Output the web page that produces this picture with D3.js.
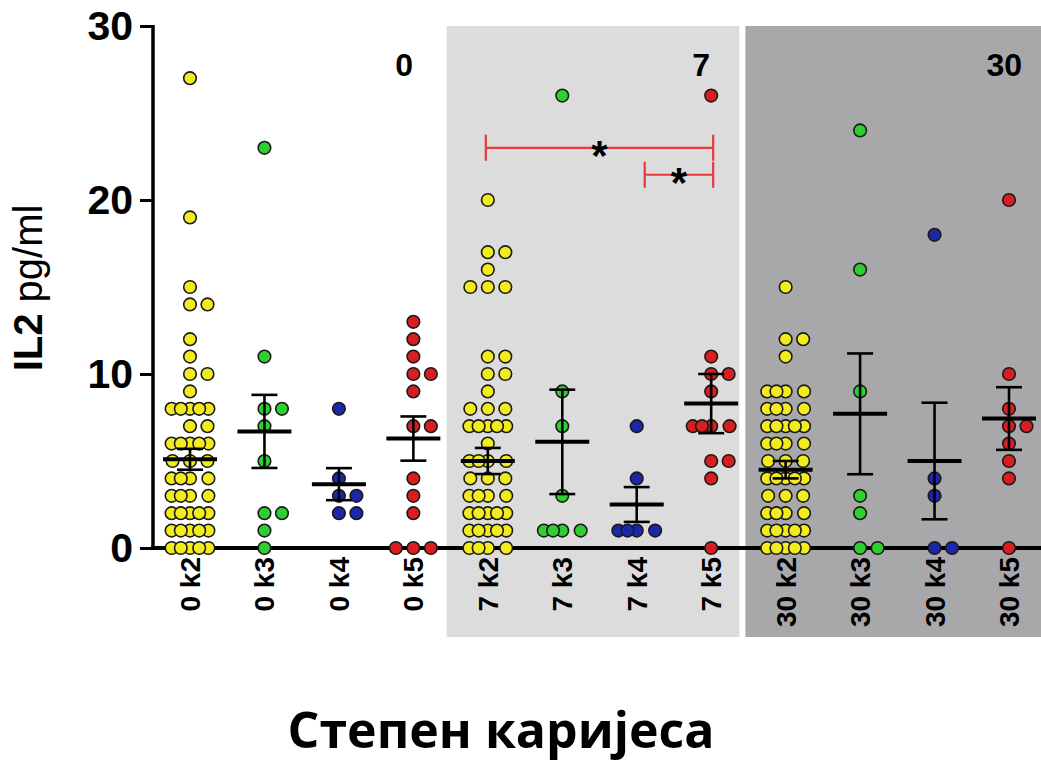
<!DOCTYPE html>
<html>
<head>
<meta charset="utf-8">
<title>IL2</title>
<script src="https://cdn.jsdelivr.net/npm/d3@7"></script>
<style>
body { margin: 0; background: white; }
svg text { font-family: "Liberation Sans", Arial, sans-serif; }
</style>
</head>
<body>
<div id="chart"></div>
<script>
// groups on the x axis
var categories = ["0 k2","0 k3","0 k4","0 k5","7 k2","7 k3","7 k4","7 k5","30 k2","30 k3","30 k4","30 k5"];
var degree = ["k2","k3","k4","k5","k2","k3","k4","k5","k2","k3","k4","k5"];

// one value per dot
var v0k2 = [27,19,15,14,14,12,11,10,10,9,8,8,8,8,8,7,7,6,6,6,6,6,5,5,5,4,4,4,4,3,3,3,3,2,2,2,2,2,1,1,1,1,1,0,0,0,0,0];
var v0k3 = [23,11,8,8,7,5,2,2,1,0];
var v0k4 = [8,4,3,3,2,2];
var v0k5 = [13,12,11,10,10,9,7,7,4,3,2,0,0,0];
var v7k2 = [20,17,17,16,15,15,15,11,11,10,10,9,8,8,8,7,7,7,7,7,6,5,5,5,5,4,4,4,3,3,3,3,2,2,2,2,2,1,1,1,1,1,0,0,0,0];
var v7k3 = [26,9,7,3,1,1,1,1];
var v7k4 = [7,4,1,1,1,1];
var v7k5 = [26,11,10,10,9,7,7,7,7,5,5,4,0];
var v30k2 = [15,12,12,11,9,9,9,9,8,8,8,8,7,7,7,7,7,6,6,6,6,5,5,5,4,4,4,4,4,3,3,3,2,2,2,2,1,1,1,1,1,0,0,0,0,0];
var v30k3 = [24,16,9,3,2,0,0];
var v30k4 = [18,4,3,0,0];
var v30k5 = [20,10,8,7,7,6,5,4,0];
var values = [v0k2,v0k3,v0k4,v0k5,v7k2,v7k3,v7k4,v7k5,v30k2,v30k3,v30k4,v30k5];

// mean and SEM as drawn
var means = [5.1,6.7,3.67,6.29,5.0,6.1,2.5,8.3,4.5,7.71,5.0,7.44];
var sems  = [0.6,2.1,0.92,1.27,0.75,3.0,1.0,1.7,0.5,3.47,3.35,1.8];

var yTicks = [0,10,20,30];
var days = ["0","7","30"];

// significance brackets
var brackets = [{from:"7 k2", to:"7 k5", y:23.0}, {from:"7 k4", to:"7 k5", y:21.45}];

var colors = {k2:"#f2ec1e", k3:"#2fcf2f", k4:"#1b27a8", k5:"#d81e1e"};

var w = 1041, h = 764;
var svg = d3.select("#chart").append("svg").attr("width", w).attr("height", h);

var x = d3.scalePoint().domain(categories).range([190, 1009]);
var y = d3.scaleLinear().domain([0,30]).range([548, 26]);

// background bands for day 7 and day 30
var b1 = (x("0 k5") + x("7 k2"))/2 - 4,
    b2 = (x("7 k5") + x("30 k2"))/2 - 9;
svg.append("rect").attr("x", b1).attr("y", y(30)).attr("width", b2 - b1).attr("height", 637 - y(30)).attr("fill", "#dcdcdc");
svg.append("rect").attr("x", b2 + 6).attr("y", y(30)).attr("width", w - b2 - 6).attr("height", 637 - y(30)).attr("fill", "#a8a8ab");

// day labels
var dayX = [413, 710, 1022];
svg.selectAll(".day").data(days).enter().append("text")
  .attr("x", function(d,i){ return dayX[i]; })
  .attr("y", 76)
  .attr("text-anchor", "end")
  .attr("font-weight", "bold")
  .attr("font-size", 32)
  .text(function(d){ return d; });

// y axis
var yAxis = d3.axisLeft(y).tickValues(yTicks).tickSize(13).tickPadding(7);
var gy = svg.append("g").attr("transform", "translate(153,0)").call(yAxis);
gy.select(".domain").attr("stroke-width", 3.5).attr("d", "M0," + (y(30)-1) + "V" + y(0));
gy.selectAll(".tick line").attr("stroke-width", 3);
gy.selectAll(".tick text").attr("font-size", 41).attr("font-weight", "bold")
  .attr("font-family", "Liberation Sans, Arial, sans-serif").attr("fill", "#000");

// x axis line
svg.append("line").attr("x1", 151).attr("x2", w).attr("y1", y(0)).attr("y2", y(0))
  .attr("stroke", "#000").attr("stroke-width", 4);

// dots: arrange equal values side by side
function offsets(n){
  var s = n <= 3 ? 17.5 : 9.2;
  var pattern = n <= 3 ? [0, s, -s] : [0, -2*s, 2*s, -s, s];
  return pattern.slice(0, n);
}
var dots = [];
values.forEach(function(arr, i){
  var counts = d3.rollup(arr, function(v){ return v.length; }, function(d){ return d; });
  counts.forEach(function(n, val){
    offsets(n).forEach(function(o){
      dots.push({cat: categories[i], deg: degree[i], v: val, dx: o});
    });
  });
});
svg.append("g").selectAll("circle").data(dots).enter().append("circle")
  .attr("cx", function(d){ return x(d.cat) + d.dx; })
  .attr("cy", function(d){ return y(d.v); })
  .attr("r", 6.3)
  .attr("fill", function(d){ return colors[d.deg]; })
  .attr("stroke", "#1a1a1a")
  .attr("stroke-width", 1.6);

// mean +/- SEM
var g = svg.append("g").attr("stroke", "#000");
categories.forEach(function(c, i){
  var cx = x(c), m = means[i], s = sems[i];
  g.append("line").attr("x1", cx).attr("x2", cx).attr("y1", y(m+s)).attr("y2", y(m-s)).attr("stroke-width", 2.6);
  g.append("line").attr("x1", cx-13).attr("x2", cx+13).attr("y1", y(m+s)).attr("y2", y(m+s)).attr("stroke-width", 2.6);
  g.append("line").attr("x1", cx-13).attr("x2", cx+13).attr("y1", y(m-s)).attr("y2", y(m-s)).attr("stroke-width", 2.6);
  g.append("line").attr("x1", cx-27).attr("x2", cx+27).attr("y1", y(m)).attr("y2", y(m)).attr("stroke-width", 4);
});

// significance brackets (short one starts a bit right of its group)
var bg = svg.append("g");
brackets.forEach(function(b, i){
  var x1 = x(b.from) + (i == 0 ? -2 : 8), x2 = x(b.to) + 2, yy = y(b.y);
  bg.append("path")
    .attr("d", "M" + x1 + "," + (yy-13) + "V" + (yy+13) + "M" + x1 + "," + yy + "H" + x2 + "M" + x2 + "," + (yy-13) + "V" + (yy+13))
    .attr("fill", "none").attr("stroke", "#e8383c").attr("stroke-width", 2.2);
  bg.append("text").attr("x", (x1+x2)/2).attr("y", yy + 22)
    .attr("text-anchor", "middle").attr("font-size", 42).attr("font-weight", "bold")
    .text("*");
});

// category labels, rotated
svg.selectAll(".cat").data(categories).enter().append("text")
  .attr("transform", function(d){ return "translate(" + (x(d) + 10) + ",557) rotate(-90)"; })
  .attr("text-anchor", "end")
  .attr("font-size", 28)
  .attr("font-weight", "bold")
  .text(function(d){ return d; });

// y title
var yt = svg.append("text").attr("transform", "translate(42,288) rotate(-90)")
  .attr("text-anchor", "middle").attr("font-size", 40);
yt.append("tspan").attr("font-weight", "bold").text("IL2");
yt.append("tspan").text(" pg/ml");

// x title
svg.append("text").attr("x", 501).attr("y", 748)
  .attr("text-anchor", "middle")
  .style("font-family", "'Open Sans', sans-serif")
  .attr("font-weight", 700)
  .attr("font-size", 50)
  .text("Степен каријеса");
</script>
</body>
</html>
